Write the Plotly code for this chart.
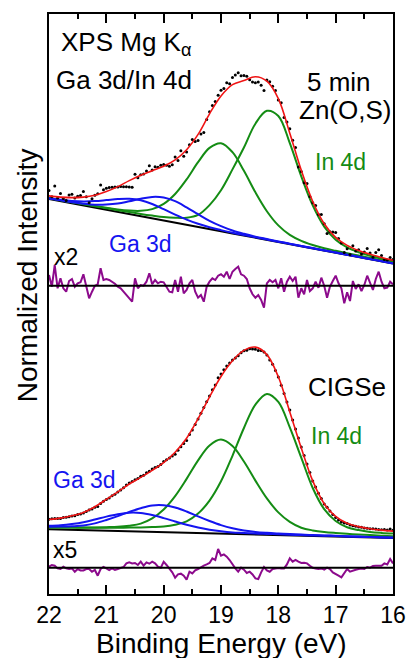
import plotly.graph_objects as go

# ---------------------------------------------------------------
# Binding-energy grids (eV)
# ---------------------------------------------------------------
energy_fit = [22.0, 21.8, 21.6, 21.4, 21.2, 21.0, 20.8, 20.6, 20.4, 20.2,
              20.0, 19.8, 19.6, 19.4, 19.2, 19.0, 18.8, 18.6, 18.4, 18.2,
              18.0, 17.8, 17.6, 17.4, 17.2, 17.0, 16.8, 16.6, 16.4, 16.2, 16.0]

# measurement grid (0.05 eV steps), shared by data points and residuals
energy_data = [22.0, 21.95, 21.9, 21.85, 21.8, 21.75, 21.7, 21.65, 21.6, 21.55,
               21.5, 21.45, 21.4, 21.35, 21.3, 21.25, 21.2, 21.15, 21.1, 21.05,
               21.0, 20.95, 20.9, 20.85, 20.8, 20.75, 20.7, 20.65, 20.6, 20.55,
               20.5, 20.45, 20.4, 20.35, 20.3, 20.25, 20.2, 20.15, 20.1, 20.05,
               20.0, 19.95, 19.9, 19.85, 19.8, 19.75, 19.7, 19.65, 19.6, 19.55,
               19.5, 19.45, 19.4, 19.35, 19.3, 19.25, 19.2, 19.15, 19.1, 19.05,
               19.0, 18.95, 18.9, 18.85, 18.8, 18.75, 18.7, 18.65, 18.6, 18.55,
               18.5, 18.45, 18.4, 18.35, 18.3, 18.25, 18.2, 18.15, 18.1, 18.05,
               18.0, 17.95, 17.9, 17.85, 17.8, 17.75, 17.7, 17.65, 17.6, 17.55,
               17.5, 17.45, 17.4, 17.35, 17.3, 17.25, 17.2, 17.15, 17.1, 17.05,
               17.0, 16.95, 16.9, 16.85, 16.8, 16.75, 16.7, 16.65, 16.6, 16.55,
               16.5, 16.45, 16.4, 16.35, 16.3, 16.25, 16.2, 16.15, 16.1, 16.05, 16.0]

# ---------------------------------------------------------------
# Upper spectrum: 5 min Zn(O,S) (intensity, arb. units, stacked)
# peak components are heights above the background
# ---------------------------------------------------------------
zns_background = [395.0, 392.9, 390.7, 388.6, 386.4, 384.3, 382.1, 380.0, 377.8, 375.7,
                  373.5, 371.4, 369.2, 367.1, 364.9, 362.8, 360.6, 358.5, 356.3, 354.2,
                  352.0, 349.9, 347.7, 345.6, 343.4, 341.3, 339.1, 337.0, 334.8, 332.7, 330.5]
zns_in4d_52 = [0.8, 0.9, 1.0, 1.2, 1.3, 1.5, 1.7, 2.0, 2.3, 2.7,
               3.4, 4.8, 7.1, 12.0, 24.0, 41.0, 64.0, 88.0, 114.0, 129.0,
               126.0, 101.0, 70.0, 43.0, 24.0, 13.0, 7.5, 4.8, 3.4, 2.6, 2.1]
zns_in4d_32 = [0.9, 1.0, 1.2, 1.4, 1.6, 1.9, 2.4, 3.4, 5.4, 9.2,
               16.6, 28.6, 45.4, 64.7, 81.2, 88.0, 81.2, 64.7, 45.4, 28.6,
               16.6, 9.2, 5.4, 3.4, 2.4, 1.9, 1.6, 1.4, 1.2, 1.0, 0.9]
zns_ga3d_52 = [0.55, 0.75, 1.1, 1.7, 2.9, 5.1, 8.3, 12.7, 17.4, 21.4,
               23.0, 21.4, 17.4, 12.7, 8.3, 5.1, 2.9, 1.7, 1.1, 0.75,
               0.55, 0.45, 0.4, 0.35, 0.3, 0.25, 0.22, 0.2, 0.18, 0.16, 0.15]
zns_ga3d_32 = [0.8, 1.4, 2.4, 4.0, 6.5, 9.6, 12.9, 15.3, 15.9, 14.3,
               11.3, 8.0, 5.2, 3.1, 1.8, 1.1, 0.7, 0.5, 0.37, 0.3,
               0.26, 0.22, 0.2, 0.18, 0.16, 0.15, 0.14, 0.13, 0.12, 0.11, 0.1]
zns_envelope = [398.1, 396.9, 396.4, 396.9, 398.7, 402.4, 407.4, 413.4, 418.8, 423.3,
                427.8, 434.2, 444.3, 459.6, 480.2, 498.0, 509.4, 513.4, 517.2, 512.8,
                495.4, 460.8, 423.7, 392.5, 370.3, 356.6, 348.6, 343.5, 339.7, 336.5, 333.8]
zns_counts = [403.5, 397.3, 407.9, 395.9, 400.6, 395.5, 393.6, 398.9, 399.8, 396.0,
              397.8, 398.4, 402.6, 397.2, 391.3, 395.2, 398.7, 400.3, 409.1, 404.3,
              405.8, 406.5, 406.8, 407.1, 406.9, 407.6, 407.3, 407.2, 407.1, 406.7,
              419.8, 416.2, 419.2, 419.9, 423.0, 428.3, 424.0, 427.3, 426.7, 428.7,
              429.5, 428.8, 427.8, 429.2, 437.1, 433.5, 443.3, 437.8, 442.1, 449.2,
              454.5, 452.6, 453.6, 459.9, 461.5, 474.4, 482.2, 488.6, 492.4, 498.7,
              503.7, 505.6, 511.2, 510.2, 516.4, 518.9, 521.2, 518.2, 518.4, 517.8,
              514.2, 512.0, 511.2, 512.0, 508.8, 503.4, 514.0, 512.3, 507.7, 503.6,
              494.1, 491.2, 476.5, 472.1, 465.3, 453.8, 446.5, 426.9, 422.4, 411.3,
              410.4, 397.4, 391.2, 388.5, 379.5, 379.4, 370.3, 360.6, 362.3, 362.1,
              361.6, 355.6, 350.9, 341.6, 345.3, 339.6, 348.2, 343.0, 344.2, 339.9,
              341.9, 345.6, 340.9, 336.7, 341.4, 344.3, 338.5, 334.5, 334.1, 336.4, 334.5]
zns_resid_base = 308.3
zns_resid_x2 = [10.7, -1, 20.7, -2.6, 7.4, -2.6, -6, 4.7, 6.7, -1,
                2.4, 3.4, 11.4, 0, -12.6, -6, 0, 1.4, 17.4, 5.7,
                6.7, 5.7, 4, 2, -1, -2.6, -6, -9.3, -12.6, -16,
                7.4, -2.6, 0.7, 0, 4, 12.4, 1.4, 5.7, 2.4, 4,
                3.4, -1, -6, -6.6, 5.7, -6, 9, -7.6, -4.3, 2.4,
                5.7, -6, -12, -9.3, -16, -1, 4, 7.4, 5.7, 10,
                11.4, 9, 14, 6.7, 14, 16.7, 19, 11.4, 10, 6.7,
                -2.6, -8.6, -12, -9.3, -14.3, -22, 2.4, 5.7, 3.4, 5.7,
                -2.6, 7.4, -6, 4, 9, 4.7, 9, -12, -2.6, -8.6,
                5.7, -5.3, -2.6, 4, -2, 8, 0, -12, -1, 4.7,
                10, 2.4, -2.6, -17.6, -6.6, -15.3, 4.7, -3.3, 1.4, -5.3,
                0.7, 10, 2.4, -4.3, 6.7, 14, 4, -2.6, -2, 4, 1.4]

# ---------------------------------------------------------------
# Lower spectrum: bare CIGSe absorber
# ---------------------------------------------------------------
cig_background = [64.7, 64.4, 64.1, 63.8, 63.5, 63.3, 63.0, 62.7, 62.4, 62.1,
                  61.8, 61.5, 61.2, 60.9, 60.7, 60.4, 60.1, 59.8, 59.5, 59.2,
                  58.9, 58.6, 58.3, 58.0, 57.8, 57.5, 57.2, 56.9, 56.6, 56.3, 56.0]
cig_in4d_52 = [2.0, 2.1, 2.3, 2.5, 2.7, 3.0, 3.3, 3.7, 4.2, 4.9,
               5.8, 7.8, 11.4, 19.5, 32.7, 52.3, 78.1, 106.2, 129.9, 140.9,
               133.2, 108.0, 78.0, 48.0, 27.0, 15.5, 9.5, 7.0, 5.5, 4.8, 4.4]
cig_in4d_32 = [1.8, 2.0, 2.3, 2.6, 3.0, 3.5, 4.2, 5.6, 8.0, 13.5,
               22.7, 36.4, 53.9, 72.7, 87.9, 94.0, 87.9, 72.7, 53.9, 36.4,
               22.7, 13.5, 8.0, 5.6, 4.2, 3.5, 3.0, 2.6, 2.3, 2.0, 1.8]
cig_ga3d_52 = [2.5, 3.0, 3.6, 4.6, 7.1, 10.7, 14.9, 19.4, 23.4, 26.4,
               26.9, 25.0, 21.3, 16.7, 12.3, 8.5, 5.6, 3.6, 2.6, 2.0,
               1.6, 1.3, 1.1, 0.9, 0.8, 0.7, 0.6, 0.55, 0.5, 0.45, 0.4]
cig_ga3d_32 = [3.5, 4.4, 5.9, 8.0, 11.0, 14.1, 16.8, 18.6, 18.6, 16.8,
               14.1, 11.0, 8.0, 5.5, 3.6, 2.3, 1.5, 1.3, 1.0, 0.9,
               0.8, 0.7, 0.6, 0.55, 0.5, 0.45, 0.4, 0.35, 0.35, 0.3, 0.3]
cig_envelope = [74.5, 75.9, 78.2, 81.5, 87.3, 94.6, 102.2, 110.0, 116.6, 123.7,
                131.3, 141.7, 155.8, 175.3, 197.2, 217.5, 233.2, 243.6, 246.9, 239.4,
                217.2, 182.1, 146.0, 113.1, 90.3, 77.6, 70.7, 67.4, 65.3, 63.9, 62.9]
cig_counts = [74.7, 75.3, 75.5, 75.4, 75.6, 76.6, 76.8, 77.3, 78.1, 78.2,
              79.4, 80.1, 81.0, 82.6, 83.9, 85.0, 86.8, 87.5, 90.5, 92.8,
              94.5, 96.0, 98.3, 99.8, 101.9, 104.1, 106.2, 108.9, 111.1, 112.5,
              114.2, 115.5, 117.8, 118.8, 121.2, 122.7, 124.9, 126.4, 127.6, 129.4,
              132.5, 134.3, 135.9, 138.0, 139.7, 143.7, 147.2, 150.5, 153.4, 159.6,
              163.9, 169.6, 175.0, 180.8, 186.4, 192.2, 198.1, 204.2, 209.0, 216.2,
              219.9, 224.3, 228.0, 231.0, 233.9, 236.0, 238.2, 241.3, 243.2, 243.7,
              245.2, 245.1, 244.8, 243.4, 243.5, 242.0, 238.9, 233.9, 229.7, 223.5,
              217.1, 208.7, 200.4, 192.0, 184.0, 174.0, 165.0, 156.0, 146.9, 138.5,
              129.9, 121.4, 113.1, 106.9, 100.7, 95.5, 89.9, 86.7, 82.9, 79.5,
              76.4, 74.1, 71.9, 71.0, 70.4, 68.9, 68.3, 67.7, 67.1, 66.7,
              65.9, 65.8, 65.3, 65.2, 64.9, 64.5, 64.3, 64.5, 64.1, 64.9, 63.8]
cig_resid_base = 26.3
cig_resid_x5 = [1, 2.7, 2, -0.7, -1.3, 1, -0.7, -1.3, -0.7, -4,
                -1.3, -2.7, -2.7, -1.3, -1.3, -4, -2.3, -8, -1.3, 0.7,
                -0.7, -2.3, -0.7, -2.3, -1.3, 0, 0.7, 4.3, 5.3, 4.3,
                4.7, 2.7, 6, 2, 5.3, 4, 6, 4.3, 1, 0,
                6, 2.7, -1.3, -4.7, -10, -6.7, -6, -8, -12, -4,
                -5.7, -2.7, -1.3, 0.7, 2, 3.3, 4.7, 9.3, 7.7, 18.7,
                12, 13.3, 11, 7.7, 3.3, -0.7, -4, 0, -2, -5.3,
                -4, -6.7, -10.7, -11.3, -4.7, 0.7, -2.7, -4, -1.3, -0.7,
                -0.3, -0.7, -0.7, 3.3, 9.3, 6, 7.7, 6, 4.7, 5,
                4.3, 2, 0, -0.7, -1.3, -0.7, -2, 0, -1.3, -4.7,
                -6, -8, -9.7, -6, -1.3, -4, -2.7, -2, -1.3, -0.7,
                -1.3, 0.7, 0, 1.7, 2, 1.7, 2, 4.3, 3.3, 8.7, 4.3]

tick_vals = [22, 21, 20, 19, 18, 17, 16]
tick_text = ["22", "21", "20", "19", "18", "17", "16"]
minor_vals = [21.5, 20.5, 19.5, 18.5, 17.5, 16.5]

# ---------------------------------------------------------------
GREEN = "#148c14"
BLUE = "#1414f0"
RED = "#f01414"
PURPLE = "#8c0a8c"
FONT = "Liberation Sans, Arial, sans-serif"

fig = go.Figure()


def add_spectrum(bg, peaks_in, peaks_ga, envelope, counts, resid, resid_base):
    # linear background under the peaks
    fig.add_trace(go.Scatter(x=energy_fit, y=bg, mode="lines",
                             line=dict(color="black", width=2), hoverinfo="skip"))
    for comp in peaks_in:
        fig.add_trace(go.Scatter(x=energy_fit, y=[b + p for b, p in zip(bg, comp)],
                                 mode="lines", line=dict(color=GREEN, width=2, shape="spline")))
    for comp in peaks_ga:
        fig.add_trace(go.Scatter(x=energy_fit, y=[b + p for b, p in zip(bg, comp)],
                                 mode="lines", line=dict(color=BLUE, width=2, shape="spline")))
    fig.add_trace(go.Scatter(x=energy_data, y=counts, mode="markers",
                             marker=dict(color="black", size=3)))
    fig.add_trace(go.Scatter(x=energy_fit, y=envelope, mode="lines",
                             line=dict(color=RED, width=1.6, shape="spline")))
    # scaled residual with its zero line
    fig.add_trace(go.Scatter(x=energy_data, y=[resid_base + r for r in resid], mode="lines",
                             line=dict(color=PURPLE, width=2)))
    fig.add_trace(go.Scatter(x=[energy_fit[0], energy_fit[-1]], y=[resid_base, resid_base],
                             mode="lines", line=dict(color="black", width=2)))


add_spectrum(zns_background, [zns_in4d_32, zns_in4d_52], [zns_ga3d_32, zns_ga3d_52],
             zns_envelope, zns_counts, zns_resid_x2, zns_resid_base)
add_spectrum(cig_background, [cig_in4d_32, cig_in4d_52], [cig_ga3d_32, cig_ga3d_52],
             cig_envelope, cig_counts, cig_resid_x5, cig_resid_base)


def label(text, x, y, size, color="black"):
    fig.add_annotation(text=text, x=x, y=y, xref="x", yref="y", xanchor="left",
                       yanchor="middle", showarrow=False,
                       font=dict(family=FONT, size=size, color=color))


label("XPS Mg K<sub>α</sub>", 21.83, 551, 26)
label("Ga 3d/In 4d", 21.91, 514, 26)
label("5 min", 17.54, 512, 26)
label("Zn(O,S)", 17.68, 484, 26)
label("In 4d", 17.39, 432, 23, GREEN)
label("Ga 3d", 20.98, 350, 23, BLUE)
label("x2", 21.95, 337, 23)
label("CIGSe", 17.52, 207, 26)
label("In 4d", 17.46, 158, 23, GREEN)
label("Ga 3d", 21.96, 114, 23, BLUE)
label("x5", 21.96, 44, 23)

fig.add_annotation(text="Binding Energy (eV)", x=0.5, y=-0.086, xref="paper", yref="paper",
                   xanchor="center", yanchor="middle", showarrow=False,
                   font=dict(family=FONT, size=28, color="black"))
fig.add_annotation(text="Normalized Intensity", x=-0.062, y=0.549, xref="paper", yref="paper",
                   xanchor="center", yanchor="middle", showarrow=False, textangle=-90,
                   font=dict(family=FONT, size=28, color="black"))

fig.update_layout(
    width=418, height=658,
    margin=dict(l=49, r=15, t=14, b=64),
    paper_bgcolor="white", plot_bgcolor="white",
    showlegend=False,
    xaxis=dict(range=[22, 16], tickmode="array", tickvals=tick_vals, ticktext=tick_text,
               ticks="inside", ticklen=9, tickwidth=1.5, tickcolor="black",
               minor=dict(tickmode="array", tickvals=minor_vals, ticks="inside",
                          ticklen=5, tickwidth=1.5, tickcolor="black", showgrid=False),
               showline=True, linecolor="black", linewidth=1.5, mirror="allticks",
               showgrid=False, zeroline=False,
               tickfont=dict(family=FONT, size=23, color="black")),
    yaxis=dict(range=[0, 580], showticklabels=False, ticks="", showline=True,
               linecolor="black", linewidth=1.5, mirror=True, showgrid=False, zeroline=False),
)

fig.write_html("out.html")
